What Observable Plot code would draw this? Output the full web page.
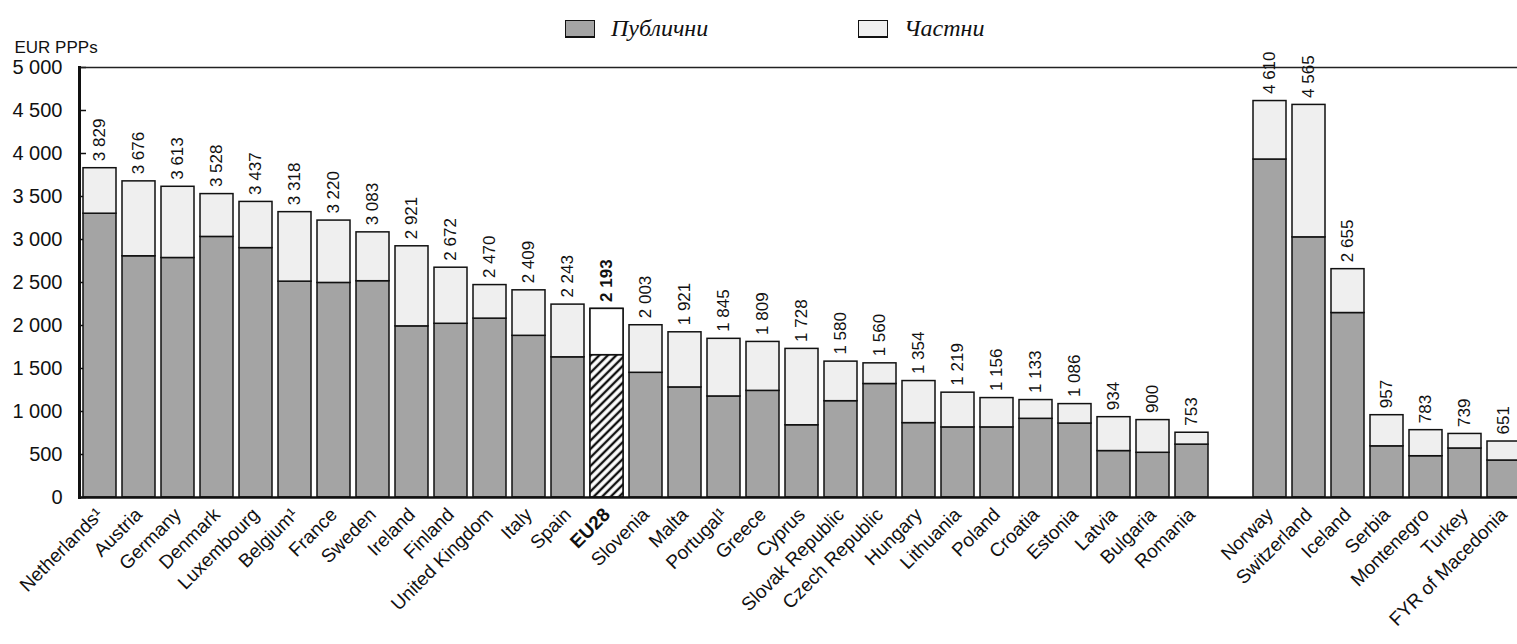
<!DOCTYPE html>
<html><head><meta charset="utf-8">
<script src="https://cdn.jsdelivr.net/npm/d3@7"></script>
<script src="https://cdn.jsdelivr.net/npm/@observablehq/plot@0.6"></script>
<style>
body{margin:0;background:#fff;}
#wrap{position:relative;width:1517px;height:644px;overflow:hidden;background:#fff;}
#legend{position:absolute;top:0;left:0;width:1517px;height:60px;font-family:"Liberation Serif","Times New Roman",serif;font-style:italic;font-size:24px;color:#111;z-index:2;}
.item{position:absolute;top:15px;display:flex;align-items:center;}
.sw{width:28px;height:15px;border:1.5px solid #111;border-bottom-width:2.5px;margin-right:16px;}
</style></head>
<body><div id="wrap"><div id="legend"></div></div>
<script>
// ---- data ----
const euCountries = ["Netherlands¹","Austria","Germany","Denmark","Luxembourg","Belgium¹","France","Sweden","Ireland","Finland","United Kingdom","Italy","Spain","EU28","Slovenia","Malta","Portugal¹","Greece","Cyprus","Slovak Republic","Czech Republic","Hungary","Lithuania","Poland","Croatia","Estonia","Latvia","Bulgaria","Romania"];
const euTotals = [3829,3676,3613,3528,3437,3318,3220,3083,2921,2672,2470,2409,2243,2193,2003,1921,1845,1809,1728,1580,1560,1354,1219,1156,1133,1086,934,900,753];
const euPublic = [3300,2805,2785,3030,2900,2510,2495,2515,1990,2020,2080,1880,1630,1655,1450,1280,1175,1240,840,1120,1320,865,815,815,915,860,540,520,615];
const otherCountries = ["Norway","Switzerland","Iceland","Serbia","Montenegro","Turkey","FYR of Macedonia"];
const otherTotals = [4610,4565,2655,957,783,739,651];
const otherPublic = [3930,3025,2145,595,480,570,430];
const seriesNames = ["Публични","Частни"];
const seriesColors = ["#a4a4a4","#efefef"];
const yTicks = [0,500,1000,1500,2000,2500,3000,3500,4000,4500,5000];
const yUnit = "EUR PPPs";
const aggregate = "EU28";
const spacer = " ";

// ---- tables ----
const countries = [...euCountries, ...otherCountries];
const totals = [...euTotals, ...otherTotals];
const publics = [...euPublic, ...otherPublic];
const xDomain = [...euCountries, spacer, ...otherCountries];
const rows = [];
countries.forEach((c, i) => {
  rows.push({country: c, series: seriesNames[0], value: publics[i]});
  rows.push({country: c, series: seriesNames[1], value: totals[i] - publics[i]});
});
const totalRows = countries.map((c, i) => ({country: c, total: totals[i]}));
const aggRows = rows.filter(d => d.country === aggregate);
const fmt = d3.formatLocale({thousands: " ", grouping: [3], decimal: ","}).format(",d");

const chart = Plot.plot({
  width: 1517, height: 644,
  marginLeft: 79, marginTop: 67, marginBottom: 147, marginRight: -6,
  style: {fontFamily: "'Liberation Sans', Arial, sans-serif", color: "#111", background: "transparent"},
  x: {domain: xDomain, paddingInner: 0.154, paddingOuter: 0.075, axis: null},
  y: {domain: [0, 5000], axis: null},
  color: {domain: seriesNames, range: seriesColors},
  marks: [
    Plot.axisY(yTicks, {anchor: "left", tickSize: -7, tickFormat: () => "", stroke: "#111", strokeWidth: 1.5, label: null}),
    Plot.axisY(yTicks, {anchor: "left", tickSize: 0, tickPadding: 17, tickFormat: fmt, fontSize: 20, label: null}),
    Plot.barY(rows, Plot.stackY({x: "country", y: "value", fill: "series", stroke: "#111", strokeWidth: 1.5})),
    Plot.barY(aggRows, Plot.stackY({x: "country", y: "value", fill: d => d.series === seriesNames[0] ? "url(#hatch)" : "#ffffff", stroke: "#111", strokeWidth: 1.5})),
    Plot.ruleY([5000], {stroke: "#222", strokeWidth: 1.5}),
    Plot.ruleY([0], {stroke: "#111", strokeWidth: 2.5}),
    Plot.frame({anchor: "left", stroke: "#111", strokeWidth: 3}),
    Plot.text(totalRows.filter(d => d.country !== aggregate), {x: "country", y: "total", text: d => fmt(d.total), rotate: -90, textAnchor: "start", dy: -7, fontSize: 17}),
    Plot.text(totalRows.filter(d => d.country === aggregate), {x: "country", y: "total", text: d => fmt(d.total), rotate: -90, textAnchor: "start", dy: -7, fontSize: 17, fontWeight: "bold"}),
    Plot.axisX(countries.filter(c => c !== aggregate), {anchor: "bottom", tickSize: 0, tickPadding: 14, tickRotate: -45, fontSize: 19, label: null}),
    Plot.axisX([aggregate], {anchor: "bottom", tickSize: 0, tickPadding: 14, tickRotate: -45, fontSize: 19, fontWeight: "bold", label: null}),
    Plot.text([yUnit], {frameAnchor: "top-left", dx: -65, dy: -15, textAnchor: "start", lineAnchor: "bottom", fontSize: 17})
  ]
});

// hatch pattern for the EU28 public bar
const defs = d3.select(chart).insert("defs", ":first-child");
const pat = defs.append("pattern").attr("id", "hatch").attr("patternUnits", "userSpaceOnUse")
  .attr("width", 6).attr("height", 6).attr("patternTransform", "rotate(45)");
pat.append("rect").attr("width", 6).attr("height", 6).attr("fill", "#fff");
pat.append("line").attr("x1", 3).attr("y1", 0).attr("x2", 3).attr("y2", 6).attr("stroke", "#111").attr("stroke-width", 2.4);

chart.style.position = "absolute";
chart.style.left = "0";
chart.style.top = "0";
document.getElementById("wrap").appendChild(chart);

// legend
const legend = document.getElementById("legend");
const legendLeft = [565, 858];
seriesNames.forEach((name, i) => {
  const item = document.createElement("div");
  item.className = "item";
  item.style.left = legendLeft[i] + "px";
  const sw = document.createElement("span");
  sw.className = "sw";
  sw.style.background = seriesColors[i];
  const tx = document.createElement("span");
  tx.textContent = name;
  item.appendChild(sw); item.appendChild(tx);
  legend.appendChild(item);
});
</script>
</body></html>
